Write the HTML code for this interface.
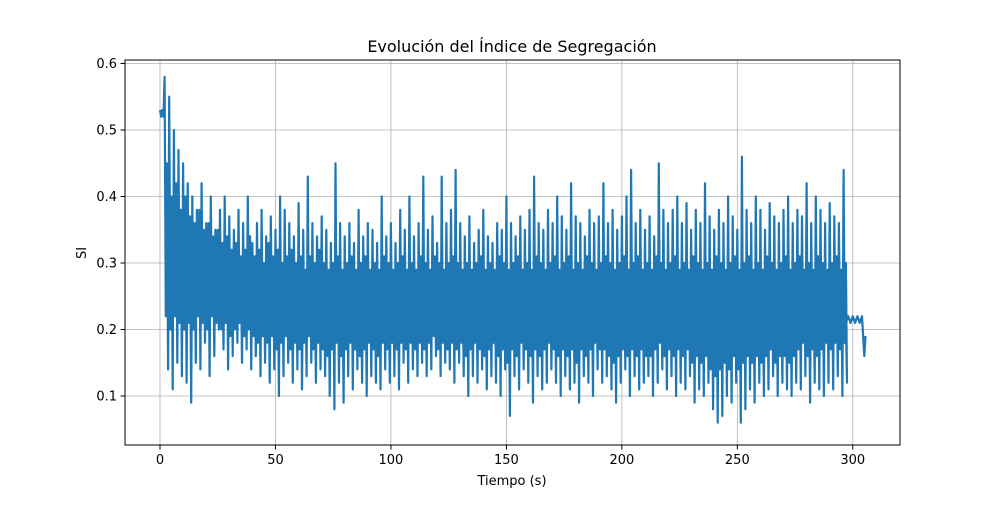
<!DOCTYPE html>
<html><head><meta charset="utf-8"><style>
body{margin:0;background:#fff;}
svg text{font-family:"DejaVu Sans","Liberation Sans",sans-serif;fill:#000;}
</style></head><body>
<svg id="chart" width="1000" height="500" xmlns="http://www.w3.org/2000/svg">
<rect width="1000" height="500" fill="#fff"/>
<g id="grid"></g>
<g id="series"></g>
<rect x="125" y="60" width="775" height="385" fill="none" stroke="#000" stroke-width="1"/>
<g id="axes"></g>
<text x="512" y="52" font-size="16" text-anchor="middle">Evolución del Índice de Segregación</text>
<text x="512" y="485" font-size="13" text-anchor="middle">Tiempo (s)</text>
<text x="86" y="253" font-size="13" text-anchor="middle" transform="rotate(-90 86 253)">SI</text>
</svg>
<script>
const xTicks=[0,50,100,150,200,250,300];
const yTicks=[0.1,0.2,0.3,0.4,0.5,0.6];
const yTickLabels=["0.1","0.2","0.3","0.4","0.5","0.6"];
const hiValues=[0.53,0.58,0.55,0.50,0.47,0.45,
0.42,0.40,0.38,0.42,0.36,0.40,0.35,0.38,0.40,0.37,
0.35,0.38,0.36,0.40,0.33,0.36,0.38,0.34,0.37,0.35,
0.40,0.38,0.36,0.34,0.39,0.35,0.43,0.36,0.34,0.37,
0.35,0.33,0.45,0.36,0.34,0.36,0.33,0.38,0.34,0.36,
0.35,0.33,0.40,0.34,0.36,0.33,0.38,0.35,0.40,0.34,
0.36,0.43,0.35,0.37,0.33,0.43,0.36,0.38,0.44,0.36,
0.34,0.37,0.33,0.35,0.38,0.34,0.33,0.36,0.35,0.40,
0.36,0.34,0.37,0.35,0.38,0.43,0.36,0.35,0.38,0.36,
0.40,0.37,0.35,0.42,0.37,0.36,0.34,0.38,0.36,0.37,
0.42,0.36,0.38,0.35,0.37,0.40,0.44,0.36,0.38,0.35,
0.37,0.34,0.45,0.38,0.36,0.38,0.40,0.36,0.39,0.35,
0.38,0.36,0.42,0.37,0.35,0.38,0.36,0.40,0.37,0.35,
0.46,0.38,0.36,0.40,0.38,0.35,0.39,0.37,0.36,0.38,
0.40,0.36,0.38,0.37,0.42,0.36,0.40,0.38,0.36,0.39,
0.37,0.36,0.44];
const loValues=[0.52,0.14,0.11,0.15,0.13,0.12,
0.09,0.15,0.14,0.18,0.13,0.16,0.20,0.17,0.14,0.16,
0.18,0.15,0.17,0.14,0.16,0.13,0.15,0.12,0.14,0.10,
0.13,0.15,0.12,0.14,0.11,0.13,0.15,0.12,0.14,0.13,
0.10,0.08,0.12,0.09,0.13,0.11,0.14,0.12,0.10,0.13,
0.12,0.11,0.14,0.12,0.13,0.11,0.15,0.12,0.14,0.13,
0.15,0.13,0.14,0.16,0.13,0.15,0.14,0.12,0.15,0.13,
0.10,0.13,0.12,0.14,0.11,0.13,0.12,0.10,0.14,0.07,
0.13,0.11,0.14,0.12,0.09,0.13,0.11,0.12,0.14,0.12,
0.10,0.13,0.11,0.12,0.09,0.13,0.12,0.10,0.14,0.12,
0.13,0.11,0.09,0.12,0.14,0.10,0.13,0.11,0.12,0.13,
0.10,0.12,0.14,0.11,0.13,0.10,0.12,0.11,0.13,0.09,
0.11,0.10,0.12,0.08,0.06,0.07,0.10,0.09,0.12,0.06,
0.08,0.11,0.09,0.12,0.10,0.11,0.13,0.10,0.12,0.11,
0.10,0.12,0.11,0.13,0.09,0.12,0.11,0.10,0.12,0.11,
0.13,0.10,0.12];
const innerHi=[0.53,0.45,0.40,0.42,0.38,0.40,
0.37,0.36,0.38,0.35,0.36,0.34,0.35,0.33,0.34,0.32,
0.33,0.31,0.32,0.34,0.31,0.32,0.30,0.33,0.31,0.32,
0.30,0.31,0.32,0.30,0.31,0.29,0.31,0.30,0.32,0.30,
0.29,0.30,0.31,0.29,0.30,0.31,0.29,0.30,0.31,0.29,
0.30,0.29,0.31,0.30,0.29,0.30,0.31,0.29,0.30,0.29,
0.31,0.30,0.29,0.31,0.30,0.29,0.30,0.31,0.30,0.29,
0.30,0.29,0.30,0.31,0.29,0.30,0.29,0.31,0.30,0.29,
0.30,0.31,0.29,0.30,0.29,0.31,0.30,0.29,0.30,0.31,
0.29,0.30,0.31,0.29,0.30,0.29,0.31,0.30,0.29,0.30,
0.31,0.30,0.29,0.30,0.31,0.29,0.30,0.31,0.29,0.30,
0.29,0.31,0.30,0.29,0.30,0.31,0.29,0.30,0.29,0.31,
0.30,0.29,0.30,0.29,0.31,0.30,0.29,0.30,0.31,0.29,
0.30,0.31,0.29,0.30,0.29,0.31,0.30,0.29,0.30,0.31,
0.29,0.30,0.31,0.29,0.30,0.29,0.31,0.30,0.29,0.30,
0.31,0.29,0.30];
const innerLo=[0.52,0.22,0.20,0.22,0.21,0.20,
0.21,0.20,0.22,0.21,0.20,0.22,0.21,0.20,0.21,0.19,
0.20,0.21,0.19,0.20,0.19,0.18,0.19,0.18,0.19,0.17,
0.18,0.19,0.17,0.18,0.17,0.18,0.19,0.17,0.18,0.17,
0.16,0.17,0.18,0.16,0.17,0.18,0.17,0.16,0.17,0.18,
0.17,0.16,0.18,0.17,0.18,0.17,0.18,0.17,0.18,0.17,
0.18,0.17,0.18,0.19,0.17,0.18,0.17,0.18,0.17,0.18,
0.16,0.17,0.18,0.17,0.16,0.17,0.18,0.16,0.17,0.15,
0.17,0.16,0.18,0.17,0.16,0.17,0.16,0.17,0.18,0.17,
0.16,0.17,0.16,0.17,0.15,0.17,0.16,0.17,0.18,0.17,
0.17,0.16,0.15,0.16,0.17,0.16,0.17,0.16,0.17,0.16,
0.16,0.17,0.18,0.16,0.17,0.16,0.17,0.16,0.17,0.15,
0.16,0.15,0.16,0.14,0.13,0.14,0.15,0.14,0.16,0.14,
0.15,0.16,0.15,0.16,0.15,0.16,0.17,0.15,0.16,0.16,
0.15,0.16,0.17,0.18,0.16,0.17,0.16,0.17,0.18,0.17,
0.18,0.17,0.18];
const tailTimes=[297,298,299,300,301,302,303,304,305,305.5];
const tailValues=[0.21,0.22,0.21,0.22,0.21,0.22,0.21,0.22,0.16,0.19];
const X=v=>160+v*2.3093, Y=v=>396-(v-0.1)*665;
const NS="http://www.w3.org/2000/svg";
const grid=document.getElementById('grid'),axes=document.getElementById('axes');
function mk(p,t,a){const e=document.createElementNS(NS,t);for(const k in a)e.setAttribute(k,a[k]);p.appendChild(e);return e;}
xTicks.forEach(t=>{
 const gl=mk(grid,'line',{x1:X(t),x2:X(t),y1:60,y2:445,stroke:'#b0b0b0','stroke-width':0.8});
 
 
 const tk=mk(axes,'line',{x1:X(t),x2:X(t),y1:445,y2:449.5,stroke:'#000'});
 
 
 const tx=mk(axes,'text',{x:X(t),y:464,'font-size':13,'text-anchor':'middle'});tx.textContent=t;
 
 
});
yTicks.forEach((t,i)=>{
 const gl=mk(grid,'line',{x1:125,x2:900,y1:Y(t),y2:Y(t),stroke:'#b0b0b0','stroke-width':0.8});
 
 
 const tk=mk(axes,'line',{x1:120.5,x2:125,y1:Y(t),y2:Y(t),stroke:'#000'});
 
 
 const tx=mk(axes,'text',{x:117,y:Y(t)+4.5,'font-size':13,'text-anchor':'end'});tx.textContent=yTickLabels[i];
 
 
});
const pts=[];
for(let i=0;i<hiValues.length;i++){
 pts.push([2*i,hiValues[i]]);
 if(i<innerLo.length)pts.push([2*i+0.5,innerLo[i]]);
 if(i<innerHi.length)pts.push([2*i+1,innerHi[i]]);
 if(i<loValues.length)pts.push([2*i+1.5,loValues[i]]);
}
tailTimes.forEach((t,i)=>pts.push([t,tailValues[i]]));
const line=mk(document.getElementById('series'),'polyline',{points:pts.map(p=>X(p[0]).toFixed(1)+','+Y(p[1]).toFixed(1)).join(' '),fill:'none',stroke:'#1f77b4','stroke-width':2.2,'stroke-linejoin':'round'});


</script>
</body></html>
